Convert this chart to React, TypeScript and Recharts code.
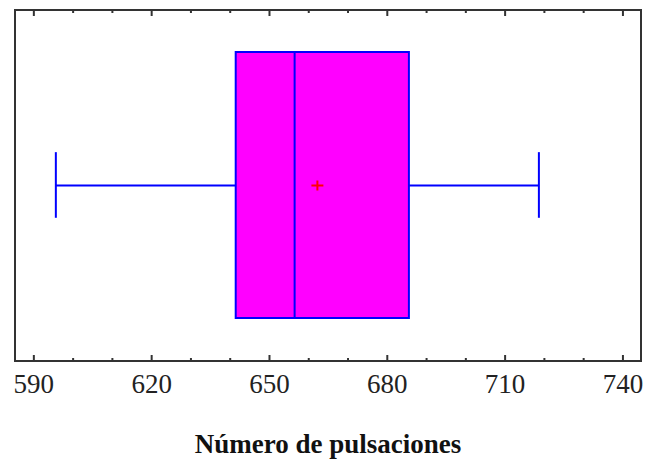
import {
  ComposedChart,
  XAxis,
  YAxis,
  Scatter,
  ReferenceArea,
  ReferenceLine,
  Label,
} from 'recharts';

// resumen del diagrama de caja (número de pulsaciones)
const minimo = 595.6;
const q1 = 641.4;
const mediana = 656.4;
const q3 = 685.5;
const maximo = 718.6;
const media = [{ x: 662.2, y: 0.5 }];

const majorTicks = [590, 620, 650, 680, 710, 740];
const allTicks = [590, 600, 610, 620, 630, 640, 650, 660, 670, 680, 690, 700, 710, 720, 730, 740];

const X_DOMAIN = [585.2, 744.6];
const BOX_LOW = 0.1225;
const BOX_HIGH = 0.88;
const CAP_LOW = 0.408;
const CAP_HIGH = 0.595;

const W = 646;
const H = 461;
const MARGIN = { top: 10, right: 5, bottom: 0, left: 15 };
const X_AXIS_H = 100;
const PLOT_H = H - MARGIN.top - MARGIN.bottom - X_AXIS_H;

const BLUE = '#0000FF';
const FRAME = '#333333';

// marcas abajo y arriba del marco, etiqueta sólo en las principales
const FrameTick = (props: any) => {
  const { x, y, payload } = props;
  const major = majorTicks.includes(payload.value);
  const len = major ? 6 : 3;
  const top = y - PLOT_H;
  return (
    <g>
      <line x1={x} x2={x} y1={y} y2={y - len} stroke={FRAME} strokeWidth={2} />
      <line x1={x} x2={x} y1={top} y2={top + len} stroke={FRAME} strokeWidth={2} />
      {major && (
        <text
          x={x}
          y={y + 32}
          textAnchor="middle"
          fontFamily="Liberation Serif"
          fontSize={27}
          fill="#222"
        >
          {payload.value}
        </text>
      )}
    </g>
  );
};

const Plus = (props: any) => {
  const { cx, cy } = props;
  return (
    <g stroke="#FF0000" strokeWidth={2}>
      <line x1={cx - 6} x2={cx + 6} y1={cy} y2={cy} />
      <line x1={cx} x2={cx} y1={cy - 5} y2={cy + 5} />
    </g>
  );
};

export default function App() {
  return (
    <div style={{ position: 'absolute', left: 0, top: 0, background: '#fff' }}>
      <ComposedChart width={W} height={H} margin={MARGIN}>
        <XAxis
          type="number"
          dataKey="x"
          domain={X_DOMAIN}
          allowDataOverflow
          ticks={allTicks}
          interval={0}
          tickSize={0}
          tickMargin={0}
          tickLine={false}
          axisLine={false}
          tick={<FrameTick />}
          height={X_AXIS_H}
        >
          <Label
            value="Número de pulsaciones"
            position="insideBottom"
            offset={8}
            style={{ fontFamily: 'Liberation Serif', fontWeight: 'bold', fontSize: 27, fill: '#111' }}
          />
        </XAxis>
        <YAxis type="number" dataKey="y" domain={[0, 1]} hide />

        <ReferenceArea
          x1={X_DOMAIN[0]}
          x2={X_DOMAIN[1]}
          y1={0}
          y2={1}
          fill="none"
          stroke={FRAME}
          strokeWidth={2}
        />

        {/* bigotes */}
        <ReferenceLine segment={[{ x: minimo, y: 0.5 }, { x: q1, y: 0.5 }]} stroke={BLUE} strokeWidth={2} />
        <ReferenceLine segment={[{ x: q3, y: 0.5 }, { x: maximo, y: 0.5 }]} stroke={BLUE} strokeWidth={2} />
        <ReferenceLine segment={[{ x: minimo, y: CAP_LOW }, { x: minimo, y: CAP_HIGH }]} stroke={BLUE} strokeWidth={2} />
        <ReferenceLine segment={[{ x: maximo, y: CAP_LOW }, { x: maximo, y: CAP_HIGH }]} stroke={BLUE} strokeWidth={2} />

        {/* caja */}
        <ReferenceArea
          x1={q1}
          x2={q3}
          y1={BOX_LOW}
          y2={BOX_HIGH}
          fill="#FF00FF"
          fillOpacity={1}
          stroke={BLUE}
          strokeWidth={2}
        />
        <ReferenceLine segment={[{ x: mediana, y: BOX_LOW }, { x: mediana, y: BOX_HIGH }]} stroke={BLUE} strokeWidth={2} />

        <Scatter data={media} shape={<Plus />} isAnimationActive={false} />
      </ComposedChart>
    </div>
  );
}
